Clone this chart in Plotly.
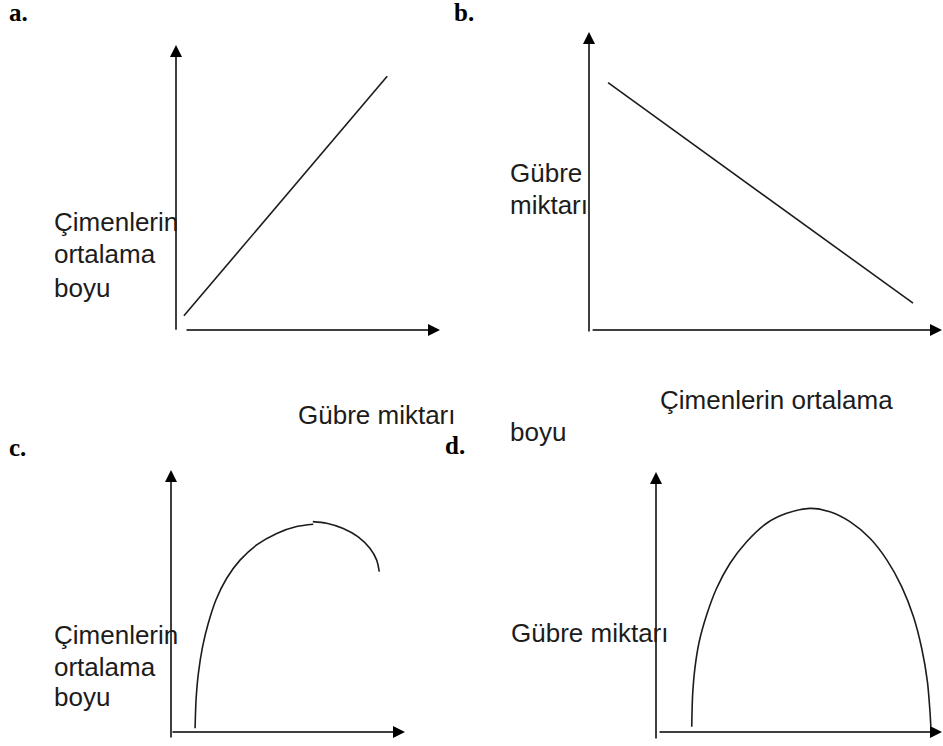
import plotly.graph_objects as go

W, H = 943, 746

# sketch curves, in each panel's own axis units (0-10)
a_x = [0.3, 8.0]
a_y = [0.5, 8.9]

b_x = [0.54, 9.18]
b_y = [8.3, 0.9]

c1_x = [1.03, 1.07, 1.17, 1.35, 1.59, 1.92, 2.38, 2.95, 3.66, 4.52, 5.37, 6.08]
c1_y = [0.14, 1.22, 2.24, 3.26, 4.14, 5.04, 5.87, 6.56, 7.14, 7.58, 7.84, 7.93]
c2_x = [6.06, 6.65, 7.36, 8.00, 8.50, 8.79, 8.90]
c2_y = [8.03, 7.97, 7.77, 7.45, 7.01, 6.56, 6.12]

d_x = [1.25, 1.28, 1.36, 1.51, 1.77, 2.12, 2.59, 3.17, 3.87, 4.57, 5.38,
       6.08, 6.78, 7.48, 8.07, 8.59, 9.00, 9.29, 9.49, 9.58, 9.61]
d_y = [0.20, 1.42, 2.45, 3.47, 4.50, 5.53, 6.49, 7.32, 8.03, 8.41, 8.60,
       8.47, 8.09, 7.45, 6.62, 5.59, 4.44, 3.22, 1.94, 0.78, 0.20]

panel_letters = ["a.", "b.", "c.", "d."]
label_boy = ["Çimenlerin", "ortalama", "boyu"]
label_gubre = ["Gübre", "miktarı"]

# axis boxes in pixels: left, top(arrow tip), right(arrow tip), bottom(x axis)
boxes = {
    "": (176, 45, 440, 330),
    "2": (589, 32, 942, 330),
    "3": (171, 470, 405, 732),
    "4": (656, 472, 942, 732),
}
# where the drawn axis arrows start (x tail, y tail)
tails = {"": (0.34, -0.04), "2": (0.06, -0.1), "3": (0.0, -0.27), "4": (0.07, -0.31)}

ink = "#1c1c1c"
fig = go.Figure()

def add_line(xs, ys, n):
    fig.add_trace(go.Scatter(x=xs, y=ys, mode="lines", xaxis="x" + n, yaxis="y" + n,
                             line=dict(color=ink, width=1.6, shape="spline", smoothing=0.8),
                             showlegend=False, hoverinfo="skip"))

add_line(a_x, a_y, "")
add_line(b_x, b_y, "2")
add_line(c1_x, c1_y, "3")
add_line(c2_x, c2_y, "3")
add_line(d_x, d_y, "4")

layout = dict(width=W, height=H, margin=dict(l=0, r=0, t=0, b=0),
              paper_bgcolor="white", plot_bgcolor="white", showlegend=False)
annotations = []
for n, (l, t, r, b) in boxes.items():
    layout["xaxis" + n] = dict(domain=[l / W, r / W], range=[0, 10], visible=False,
                               fixedrange=True, anchor="y" + n)
    layout["yaxis" + n] = dict(domain=[1 - b / H, 1 - t / H], range=[0, 10], visible=False,
                               fixedrange=True, anchor="x" + n)
    tx, ty = tails[n]
    arrow = dict(text="", showarrow=True, arrowhead=2, arrowsize=1.6, arrowwidth=1.5,
                 arrowcolor="black", xref="x" + n, yref="y" + n,
                 axref="x" + n, ayref="y" + n, standoff=0, startstandoff=0)
    annotations.append(dict(arrow, x=0, y=10, ax=0, ay=ty))
    annotations.append(dict(arrow, x=10, y=0, ax=tx, ay=0))


def txt(s, px, py, size=26, bold=False):
    family = "Liberation Serif" if bold else "Liberation Sans"
    text = "<b>" + s + "</b>" if bold else s
    annotations.append(dict(text=text, x=px / W, y=1 - py / H, xref="paper", yref="paper",
                            xanchor="left", yanchor="middle", showarrow=False,
                            font=dict(family=family, size=size, color="black" if bold else ink)))


for s, (px, py) in zip(panel_letters, [(7, 12), (452, 12), (7, 448), (443, 446)]):
    txt(s, px, py, size=25, bold=True)

for s, py in zip(label_boy, [222, 254, 288]):
    txt(s, 52, py)
for s, py in zip(label_gubre, [173, 205]):
    txt(s, 508, py)
txt("Gübre miktarı", 296, 415)
txt("Çimenlerin ortalama", 658, 400)
txt("boyu", 508, 432)
for s, py in zip(label_boy, [635, 667, 697]):
    txt(s, 52, py)
txt("Gübre miktarı", 509, 633)

layout["annotations"] = annotations
fig.update_layout(**layout)
fig.write_html("out.html", config={"displayModeBar": False},
               post_script="document.body.style.margin='0';")
